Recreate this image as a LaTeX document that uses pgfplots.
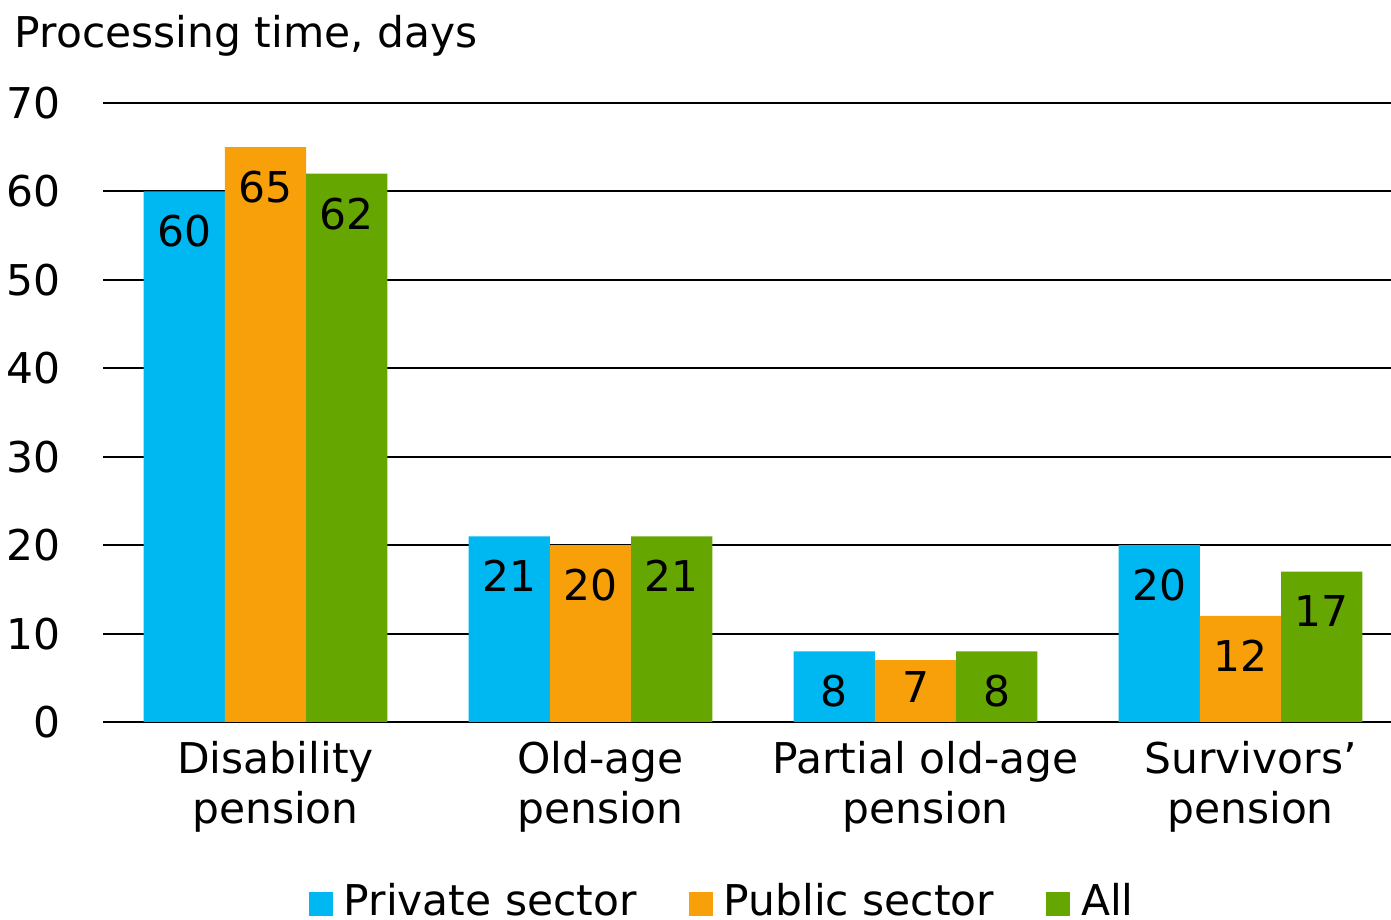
\documentclass[border=0pt]{standalone}
\usepackage{fontspec}
\setmainfont{DejaVu Sans}
\usepackage{pgfplots}
\pgfplotsset{compat=1.18}
\definecolor{cblue}{HTML}{00B8F1}
\definecolor{corange}{HTML}{F8A00A}
\definecolor{cgreen}{HTML}{66A600}
\begin{document}
\begin{tikzpicture}
\path[use as bounding box] (0,0) rectangle (347.75pt,230pt);
\node[anchor=base west, inner sep=0pt, font=\fontsize{10.6}{12}\selectfont] at (3.5pt,218pt) {Processing time, days};
\begin{axis}[
  at={(25.75pt,49.5pt)}, anchor=south west,
  scale only axis, width=322pt, height=154.75pt,
  ybar, bar width=0.25,
  xmin=-0.5, xmax=3.463, ymin=0, ymax=70,
  ytick={0,10,...,70},
  xtick={0,1,2,3},
  xticklabels={{Disability\\pension},{Old-age\\pension},{Partial old-age\\pension},{Survivors’\\pension}},
  axis lines=left,
  axis line style={-},
  y axis line style={draw=none},
  x axis line style={black, line width=0.5pt},
  ymajorgrids, grid style={black, line width=0.5pt},
  major tick length=0,
  /pgf/number format/assume math mode=true,
  yticklabel style={font=\fontsize{10.6}{12}\selectfont, inner sep=0pt, xshift=-10.5pt},
  xticklabel style={font=\fontsize{10.6}{12.5}\selectfont, align=center, inner sep=0pt, yshift=-4.5pt, xshift=2.5pt},
  visualization depends on={y \as \rawy},
  nodes near coords, nodes near coords align=below,
  every node near coord/.append style={font=\fontsize{10.6}{12}\selectfont, inner sep=0pt, yshift={-5.75pt+3pt*(\rawy<7.5)}, text=black},
  legend columns=3,
  legend style={draw=none, at={(0.48,-0.292)}, anchor=center, font=\fontsize{10.6}{12}\selectfont,
    /tikz/every odd column/.append style={column sep=2.75pt},
    /tikz/every even column/.append style={column sep=13pt},
    nodes={inner sep=0pt}},
  legend image code/.code={\fill[#1] (0pt,-3.2pt) rectangle (6pt,2.6pt);},
]
\addplot[fill=cblue, draw=none, bar shift=-0.25] coordinates {(0,60) (1,21) (2,8) (3,20)};
\addplot[fill=corange, draw=none, bar shift=0] coordinates {(0,65) (1,20) (2,7) (3,12)};
\addplot[fill=cgreen, draw=none, bar shift=0.25] coordinates {(0,62) (1,21) (2,8) (3,17)};
\legend{Private sector, Public sector, All}
\end{axis}
\end{tikzpicture}
\end{document}
